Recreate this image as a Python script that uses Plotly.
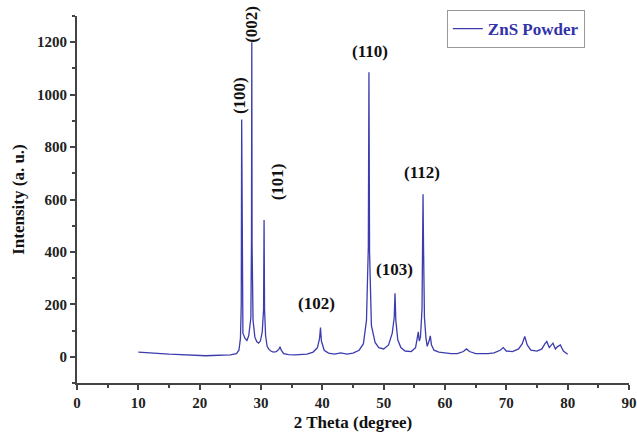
import plotly.graph_objects as go

two_theta = [10, 11, 12, 13, 14, 15, 16, 17, 18, 19, 20, 21, 22, 23, 24, 25, 26, 26.4, 26.65, 26.78, 26.85,
             26.92, 27.05, 27.4, 27.7, 28.0, 28.35, 28.45, 28.5, 28.55, 28.7, 29.0, 29.3, 29.6, 29.9, 30.2,
             30.42, 30.5, 30.58, 30.75, 31.0, 31.3, 31.6, 32.0, 32.5, 32.9, 33.1, 33.3, 33.7, 34.5, 35.5, 36.5,
             37.5, 38.5, 39.2, 39.55, 39.7, 39.85, 40.3, 41, 42, 43, 43.5, 44, 45, 46, 46.7, 47.2, 47.5, 47.6,
             47.7, 48.0, 48.6, 49.2, 50, 50.8, 51.4, 51.72, 51.85, 51.98, 52.3, 52.8, 53.5, 54.5, 55.2, 55.5,
             55.65, 55.8, 56.0, 56.25, 56.35, 56.42, 56.5, 56.65, 56.9, 57.1, 57.4, 57.6, 57.8, 58.2, 59, 60,
             61, 62, 63, 63.5, 64, 65, 66, 67, 68, 69, 69.5, 70, 71, 72, 72.6, 73.0, 73.4, 74, 75, 75.8, 76.3,
             76.6, 77.0, 77.3, 77.6, 78.0, 78.3, 78.8, 79.3, 80]
intensity = [18, 16, 14, 13, 12, 10, 9, 8, 6, 5, 4, 4, 5, 6, 5, 7, 12, 25, 70, 200, 905,
             200, 90, 70, 62, 80, 150, 450, 1200, 420, 140, 75, 58, 52, 60, 95,
             180, 522, 180, 80, 40, 28, 22, 18, 20, 28, 38, 25, 12, 8, 7, 8,
             10, 18, 35, 70, 112, 60, 25, 14, 10, 15, 12, 10, 14, 25, 50, 140, 420, 1085,
             400, 120, 55, 35, 30, 45, 90, 150, 242, 140, 65, 35, 22, 20, 35, 70,
             95, 60, 75, 180, 400, 620, 420, 150, 70, 40, 60, 80, 45, 25, 18, 15,
             12, 12, 20, 30, 20, 12, 11, 12, 15, 25, 35, 22, 20, 30, 50, 78, 45, 25, 22, 30, 50,
             58, 35, 45, 52, 30, 38, 45, 22, 10]

peak_labels = ["(100)", "(002)", "(101)", "(102)", "(110)", "(103)", "(112)"]
label_x = [26.6, 28.4, 32.6, 39.0, 47.8, 51.8, 56.2]
label_y = [995, 1267, 669, 205, 1166, 332, 703]
label_angle = [-90, -90, -90, 0, 0, 0, 0]

series_name = "ZnS Powder"
x_title = "2 Theta (degree)"
y_title = "Intensity (a. u.)"

serif = "Liberation Serif, Times New Roman, serif"
line_color = "rgb(60,60,175)"

fig = go.Figure()
fig.add_trace(go.Scatter(x=two_theta, y=intensity, mode="lines", name="<b>%s</b>" % series_name,
                         line=dict(color=line_color, width=1.3)))

for t, x, y, a in zip(peak_labels, label_x, label_y, label_angle):
    fig.add_annotation(x=x, y=y, text="<b>%s</b>" % t, textangle=a, showarrow=False,
                       font=dict(family=serif, size=17, color="#111"))

axis_common = dict(showline=True, linewidth=2, linecolor="#444", ticks="outside", ticklen=5,
                   tickwidth=1.5, tickcolor="#444", showgrid=False, zeroline=False,
                   tickfont=dict(family=serif, size=15, color="#222"),
                   title_font=dict(family=serif, size=17, color="#111"), automargin=False)

fig.update_xaxes(range=[0, 90], dtick=10, tick0=0, title_text="<b>%s</b>" % x_title, title_standoff=6,
                 minor=dict(ticks="outside", ticklen=3, dtick=5, tickcolor="#444"),
                 tickprefix="<b>", ticksuffix="</b>", **axis_common)
fig.update_yaxes(range=[-100, 1300], dtick=200, tick0=0, title_text="<b>%s</b>" % y_title, title_standoff=8,
                 minor=dict(ticks="outside", ticklen=3, dtick=100, tickcolor="#444"),
                 tickprefix="<b>", ticksuffix="</b>", **axis_common)

fig.update_layout(width=637, height=434, margin=dict(l=77, r=8, t=16, b=51),
                  paper_bgcolor="white", plot_bgcolor="white", showlegend=True,
                  legend=dict(x=0.67, y=1.016, xanchor="left", yanchor="top",
                              bordercolor="#999", borderwidth=1, bgcolor="white",
                              font=dict(family=serif, size=17, color="rgb(50,50,170)"),
                              itemwidth=30))

fig.write_html("out.html")
